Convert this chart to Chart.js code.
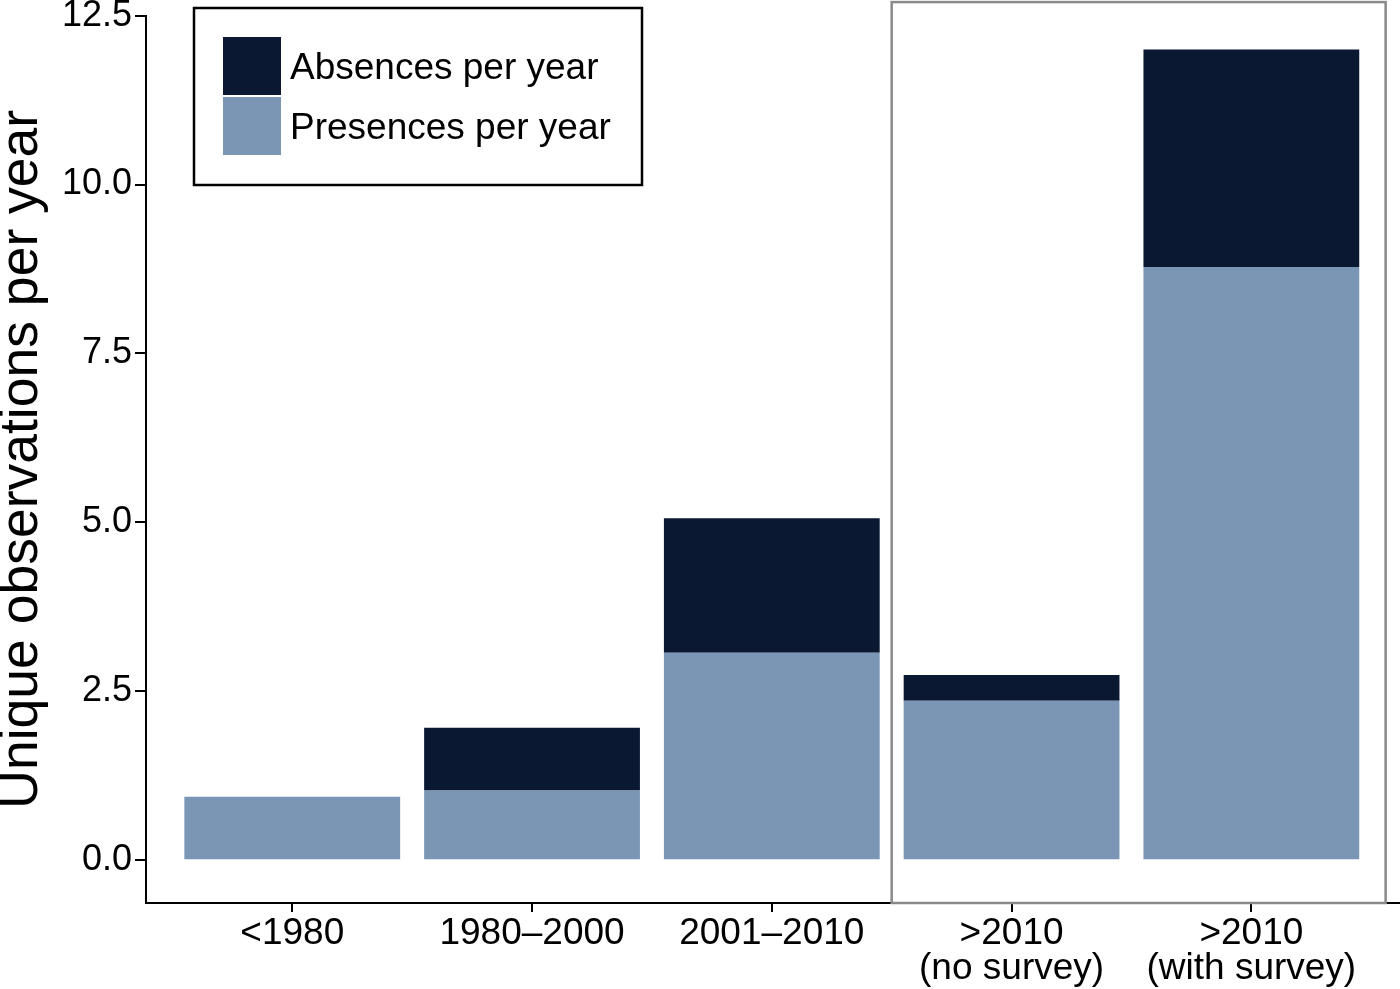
<!DOCTYPE html>
<html>
<head>
<meta charset="utf-8">
<script src="https://cdn.jsdelivr.net/npm/chart.js@4.4.0/dist/chart.umd.min.js"></script>
<style>
html, body { margin: 0; padding: 0; background: #fff; }
#wrap { width: 1400px; height: 989px; }
</style>
</head>
<body>
<div id="wrap"><canvas id="myChart"></canvas></div>
<script>
var categories = ['<1980', '1980–2000', '2001–2010', ['>2010', '(no survey)'], ['>2010', '(with survey)']];
var presences = [0.94, 1.03, 3.07, 2.36, 8.78];
var absences = [0, 0.93, 1.99, 0.38, 3.22];
var yTicks = [0, 2.5, 5, 7.5, 10, 12.5];

Chart.defaults.font.family = '"Liberation Sans", Arial, sans-serif';
Chart.defaults.color = '#000';

function points(vals) {
    return vals.map(function(v, i) { return {x: i, y: v}; });
}

// grey frame round the two ">2010" groups
var surveyBox = {
    id: 'surveyBox',
    afterDatasetsDraw: function(chart) {
        var x = chart.scales.x, y = chart.scales.y, c = chart.ctx;
        var l = x.getPixelForValue(2.5), r = x.getPixelForValue(4.56);
        var t = y.getPixelForValue(12.7), b = y.getPixelForValue(y.min);
        c.save();
        c.strokeStyle = '#8a8a8a';
        c.lineWidth = 2.5;
        c.strokeRect(l, t, r - l, b - t);
        c.restore();
    }
};

// boxed legend in the top left corner, absences first
var boxLegend = {
    id: 'boxLegend',
    afterDraw: function(chart) {
        var c = chart.ctx;
        var items = chart.data.datasets.slice().reverse();
        c.save();
        c.strokeStyle = '#000';
        c.lineWidth = 2.5;
        c.strokeRect(194, 8, 448, 177);
        c.font = '37px "Liberation Sans", Arial, sans-serif';
        c.textBaseline = 'alphabetic';
        items.forEach(function(ds, i) {
            var top = 37 + i * 60;
            c.fillStyle = ds.backgroundColor;
            c.fillRect(223, top, 58, 58);
            c.fillStyle = '#000';
            c.fillText(ds.label, 290, top + 42);
        });
        c.restore();
    }
};

var ctx = document.getElementById('myChart');
var chart = new Chart(ctx, {
    type: 'bar',
    data: {
        datasets: [{
            label: 'Presences per year',
            data: points(presences),
            backgroundColor: '#7b96b4',
            barPercentage: 0.9,
            categoryPercentage: 1.0
        }, {
            label: 'Absences per year',
            data: points(absences),
            backgroundColor: '#0b1832',
            barPercentage: 0.9,
            categoryPercentage: 1.0
        }]
    },
    options: {
        responsive: true,
        maintainAspectRatio: false,
        animation: false,
        layout: { padding: { top: 13, right: 0, bottom: 0, left: 0 } },
        plugins: {
            legend: { display: false },
            tooltip: { enabled: false }
        },
        scales: {
            x: {
                type: 'linear',
                stacked: true,
                min: -0.61,
                max: 4.62,
                offset: false,
                afterBuildTicks: function(s) {
                    s.ticks = categories.map(function(c, i) { return {value: i}; });
                },
                afterFit: function(s) { s.height = 86; },
                ticks: {
                    callback: function(v) { return categories[v]; },
                    font: { size: 37, lineHeight: 0.95 },
                    padding: 4,
                    maxRotation: 0,
                    autoSkip: false
                },
                grid: { display: true, offset: false, drawOnChartArea: false, drawTicks: true, tickLength: 9, color: '#000', lineWidth: 2 },
                border: { display: true, color: '#000', width: 2 }
            },
            y: {
                stacked: true,
                min: -0.634,
                max: 12.5,
                afterBuildTicks: function(s) {
                    s.ticks = yTicks.map(function(v) { return {value: v}; });
                },
                afterFit: function(s) { s.width = 146; },
                ticks: {
                    callback: function(v) { return v.toFixed(1); },
                    font: { size: 36, lineHeight: 0.7 },
                    padding: 3
                },
                grid: { display: true, drawOnChartArea: false, drawTicks: true, tickLength: 11, color: '#000', lineWidth: 2 },
                border: { display: true, color: '#000', width: 2 },
                title: {
                    display: true,
                    text: 'Unique observations per year',
                    font: { size: 53.5, lineHeight: 0.84 },
                    padding: 0
                }
            }
        }
    },
    plugins: [surveyBox, boxLegend]
});
</script>
</body>
</html>
